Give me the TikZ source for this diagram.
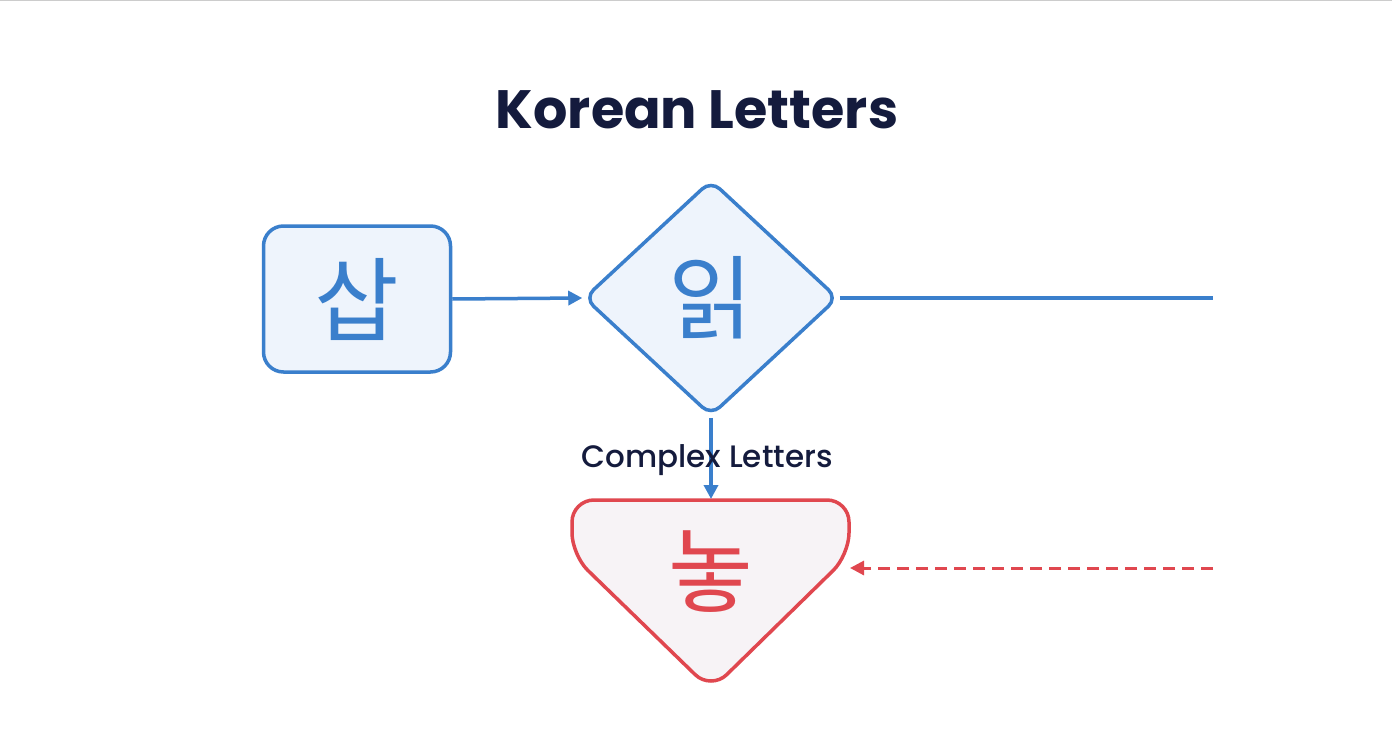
\documentclass[tikz,border=0pt]{standalone}
\usepackage{fontspec}
\setmainfont{Poppins}
\newfontfamily\kr{Noto Sans CJK KR}
\newfontfamily\lab{Poppins Medium}
\usetikzlibrary{shapes.geometric,arrows.meta}
\definecolor{bl}{HTML}{3A7FCC}
\definecolor{blf}{HTML}{EEF4FC}
\definecolor{rd}{HTML}{E0474F}
\definecolor{rdf}{HTML}{F7F3F6}
\definecolor{nv}{HTML}{141B3D}
\tikzset{
 bline/.style={draw=bl,line width=3.5pt},
 kch/.style={font=\kr\fontsize{92}{92}\selectfont},
 arr/.style={-{Triangle[length=14pt,width=14pt]}},
}
\begin{document}
\begin{tikzpicture}[x=1pt,y=-1pt]
\useasboundingbox[fill=white] (0,0) rectangle (1392,752);
\draw[gray!40,line width=1pt] (0,1) -- (1392,1);
\node[font=\bfseries\fontsize{54}{60}\selectfont,text=nv] (title) at (697,110) {Korean Letters};
\node[bline,fill=blf,rounded corners=20pt,minimum width=187pt,minimum height=146pt,kch,text=bl] (a) at (357,299) {삽};
\node[bline,fill=blf,diamond,rounded corners=12pt,minimum width=254pt,minimum height=236pt,inner sep=0pt,kch,text=bl] (b) at (711,298) {읽};
\coordinate (e) at (1213,298);
\draw[bline,arr] (a.east) -- (b.west);
\draw[bline] (b.east) -- (e);
\coordinate (tl) at (572,500); \coordinate (tr) at (849,500); \coordinate (bt) at (711,690);
\draw[draw=rd,fill=rdf,line width=3.5pt,rounded corners=22pt] (711,500) -- (tr) -- (849,555) -- (bt) -- (572,555) -- (tl) -- cycle;
\node[kch,text=rd] (c) at (711,572) {놓};
\coordinate (ct) at (711,499);
\draw[bline,arr] (b.south) -- (ct);
\node[font=\lab\fontsize{31}{34}\selectfont,text=nv] (lab) at (707,460) {Complex Letters};
\coordinate (f) at (1213,568); \coordinate (g) at (850,568);
\draw[draw=rd,line width=3pt,dashed,dash pattern=on 12pt off 7pt,arr] (f) -- (g);
\end{tikzpicture}
\end{document}
